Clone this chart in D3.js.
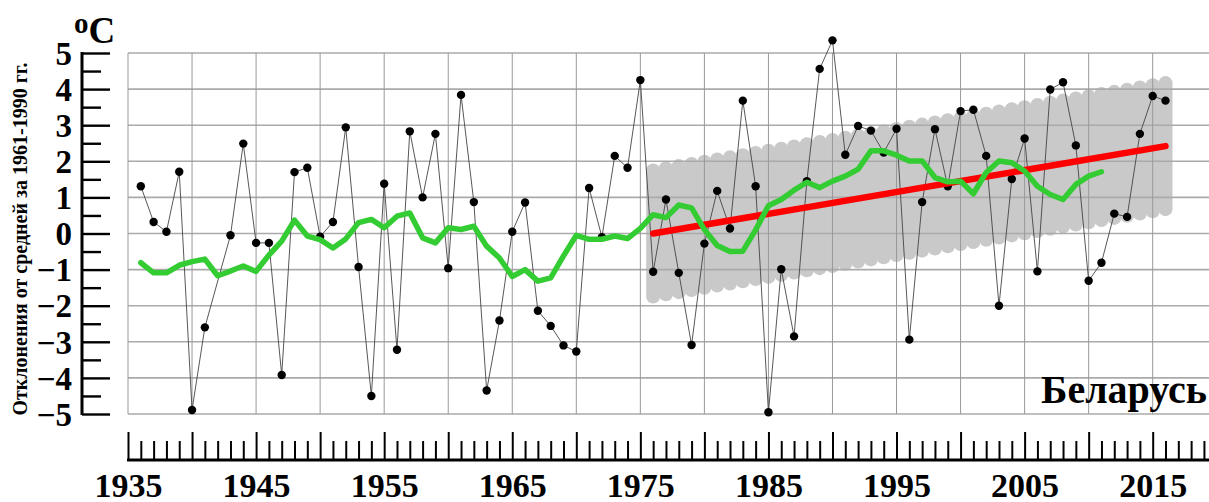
<!DOCTYPE html>
<html>
<head>
<meta charset="utf-8">
<script src="https://cdn.jsdelivr.net/npm/d3@7"></script>
<style>
  body { margin: 0; background: #fff; }
  text { font-family: "Liberation Serif", "Times New Roman", serif; font-weight: bold; }
</style>
</head>
<body>
<div id="chart"></div>
<script>
// anomalies of mean annual temperature, 1936..2016 (1942 missing)
const firstYear = 1936;
const anomalies = [
  1.31, 0.32, 0.05, 1.71, -4.89, -2.60, null, -0.05, 2.49, -0.26,
  -0.26, -3.92, 1.70, 1.82, -0.09, 0.32, 2.94, -0.93, -4.50, 1.38,
  -3.22, 2.83, 1.00, 2.76, -0.96, 3.84, 0.87, -4.35, -2.41, 0.05,
  0.86, -2.14, -2.56, -3.10, -3.27, 1.26, -0.10, 2.15, 1.82, 4.25,
  -1.06, 0.94, -1.09, -3.09, -0.28, 1.18, 0.14, 3.68, 1.31, -4.95,
  -0.99, -2.85, 1.45, 4.56, 5.35, 2.18, 2.98, 2.85, 2.24, 2.90,
  -2.94, 0.87, 2.89, 1.31, 3.39, 3.43, 2.15, -2.00, 1.51, 2.63,
  -1.05, 3.99, 4.19, 2.44, -1.31, -0.81, 0.55, 0.46, 2.76, 3.81,
  3.68
];
// smoothed curve, 1936..2011
const smoothed = [
  -0.81, -1.09, -1.09, -0.88, -0.78, -0.71, -1.17, -1.04, -0.90, -1.05,
  -0.60, -0.21, 0.37, -0.07, -0.17, -0.40, -0.15, 0.30, 0.39, 0.16,
  0.48, 0.57, -0.12, -0.26, 0.16, 0.11, 0.20, -0.35, -0.68, -1.19,
  -1.00, -1.32, -1.23, -0.62, -0.05, -0.16, -0.16, -0.07, -0.14, 0.14,
  0.52, 0.44, 0.79, 0.71, 0.11, -0.33, -0.50, -0.49, 0.10, 0.77,
  0.94, 1.20, 1.42, 1.27, 1.45, 1.59, 1.78, 2.29, 2.29, 2.17,
  2.01, 2.01, 1.55, 1.43, 1.45, 1.10, 1.69, 2.01, 1.96, 1.73,
  1.31, 1.08, 0.94, 1.36, 1.59, 1.71
];
// linear trend 1976..2016 and its spread
const trendYears = [1976, 2016];
const trendValues = [0.0, 2.42];
const bandHalf = 1.94;

const yTicks = [5, 4, 3, 2, 1, 0, -1, -2, -3, -4, -5];
const yLabel = "Отклонения от средней за 1961-1990 гг.";
const regionName = "Беларусь";

const width = 1209, height = 502;
const plot = { left: 128, top: 53, right: 1209, bottom: 414 };
const serif = "'Liberation Serif', 'Times New Roman', serif";

const svg = d3.select("#chart").append("svg")
  .attr("width", width)
  .attr("height", height);

svg.append("rect").attr("width", width).attr("height", height).attr("fill", "#fff");

const x = d3.scaleLinear().domain([1935, 2015]).range([plot.left, 1152.7]);
const y = d3.scaleLinear().domain([-5, 5]).range([plot.bottom, plot.top]);

const lastYear = Math.floor(x.invert(plot.right));

// gray band built from rounded columns along the trend
const trend = d3.scaleLinear().domain(trendYears).range(trendValues);
const bandYears = d3.range(trendYears[0], trendYears[1] + 1);
svg.append("g").selectAll("rect")
  .data(bandYears)
  .enter()
  .append("rect")
  .attr("x", d => x(d) - 7)
  .attr("y", d => y(trend(d) + bandHalf))
  .attr("width", 14)
  .attr("height", d => y(trend(d) - bandHalf) - y(trend(d) + bandHalf))
  .attr("rx", 7)
  .attr("fill", "#c9c9c9");

// grid
svg.append("g").selectAll("line")
  .data(yTicks)
  .enter()
  .append("line")
  .attr("x1", plot.left).attr("x2", plot.right)
  .attr("y1", d => y(d)).attr("y2", d => y(d))
  .attr("stroke", "#aaa")
  .attr("stroke-width", 1.6);

svg.append("g").selectAll("line")
  .data(d3.range(1935, lastYear + 1, 5))
  .enter()
  .append("line")
  .attr("x1", d => x(d)).attr("x2", d => x(d))
  .attr("y1", plot.top).attr("y2", plot.bottom)
  .attr("stroke", "#999")
  .attr("stroke-width", 1);

// yearly values
const points = anomalies
  .map((v, i) => ({ year: firstYear + i, value: v }))
  .filter(d => d.value !== null);

svg.append("path")
  .datum(points)
  .attr("d", d3.line().x(d => x(d.year)).y(d => y(d.value)))
  .attr("fill", "none")
  .attr("stroke", "#444")
  .attr("stroke-width", 0.9);

svg.append("g").selectAll("circle")
  .data(points)
  .enter()
  .append("circle")
  .attr("cx", d => x(d.year))
  .attr("cy", d => y(d.value))
  .attr("r", 4.2)
  .attr("fill", "#000");

// trend
svg.append("line")
  .attr("x1", x(trendYears[0])).attr("y1", y(trendValues[0]))
  .attr("x2", x(trendYears[1])).attr("y2", y(trendValues[1]))
  .attr("stroke", "#f00")
  .attr("stroke-width", 6.5)
  .attr("stroke-linecap", "round");

// smoothed
svg.append("path")
  .datum(smoothed.map((v, i) => ({ year: firstYear + i, value: v })))
  .attr("d", d3.line().x(d => x(d.year)).y(d => y(d.value)))
  .attr("fill", "none")
  .attr("stroke", "#33cc33")
  .attr("stroke-width", 5.5)
  .attr("stroke-linejoin", "round")
  .attr("stroke-linecap", "round");

// y axis: ticks point into the plot, labels on the left
const yAxisX = 82;
const yAxis = svg.append("g").attr("transform", `translate(${yAxisX},0)`);
yAxis.call(d3.axisLeft(y).tickValues(yTicks).tickSizeInner(-28).tickSizeOuter(0).tickPadding(10)
  .tickFormat(d3.format("d")));
yAxis.append("g").call(d3.axisLeft(y).tickValues(d3.range(-4.5, 5, 1)).tickSizeInner(-19).tickSizeOuter(0)
  .tickFormat(""));
yAxis.selectAll(".domain").remove();
yAxis.selectAll("line").attr("stroke", "#000").attr("stroke-width", 2.4);
yAxis.selectAll("text")
  .attr("font-size", 33)
  .attr("fill", "#000")
  .attr("dy", "0.34em")
  .style("font-family", serif)
  .style("font-weight", "bold");
yAxis.append("line")
  .attr("x1", 0).attr("x2", 0)
  .attr("y1", y(5) - 1).attr("y2", y(-5) + 1)
  .attr("stroke", "#000").attr("stroke-width", 3);

// x axis: ticks above the line, labels below
const xAxisY = 460;
const xAxis = svg.append("g").attr("transform", `translate(0,${xAxisY})`);
xAxis.call(d3.axisBottom(x).tickValues(d3.range(1935, lastYear + 1, 5)).tickSizeInner(-28).tickSizeOuter(0)
  .tickPadding(13)
  .tickFormat(d => d % 10 === 5 ? String(d) : ""));
xAxis.append("g").call(d3.axisBottom(x).tickValues(d3.range(1935, lastYear + 1).filter(d => d % 5 !== 0))
  .tickSizeInner(-19).tickSizeOuter(0).tickFormat(""));
xAxis.selectAll(".domain").remove();
xAxis.selectAll("line").attr("stroke", "#000").attr("stroke-width", 2);
xAxis.selectAll("text")
  .attr("font-size", 34)
  .attr("fill", "#000")
  .style("font-family", serif)
  .style("font-weight", "bold");
xAxis.append("line")
  .attr("x1", plot.left - 1).attr("x2", plot.right)
  .attr("y1", 0).attr("y2", 0)
  .attr("stroke", "#000").attr("stroke-width", 3);

// unit
const unit = svg.append("text").attr("x", 74).attr("y", 43).attr("font-size", 37).attr("fill", "#000");
unit.append("tspan").attr("font-size", 29).attr("dy", -10).text("o");
unit.append("tspan").attr("dy", 10).text("C");

// y label
svg.append("text")
  .attr("transform", "translate(27,239) rotate(-90)")
  .attr("text-anchor", "middle")
  .attr("font-size", 20)
  .attr("fill", "#000")
  .text(yLabel);

svg.append("text")
  .attr("x", 1207).attr("y", 403)
  .attr("text-anchor", "end")
  .attr("font-size", 40)
  .attr("fill", "#000")
  .text(regionName);
</script>
</body>
</html>
